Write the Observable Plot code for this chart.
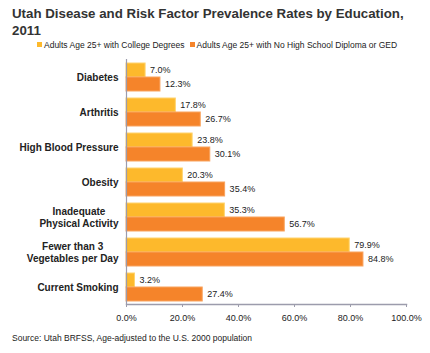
<!DOCTYPE html>
<html>
<head>
<meta charset="utf-8">
<script src="https://cdn.jsdelivr.net/npm/d3@7"></script>
<script src="https://cdn.jsdelivr.net/npm/@observablehq/plot@0.6"></script>
<style>
  html, body { margin: 0; padding: 0; background: #fff; }
  body { width: 430px; height: 353px; position: relative; overflow: hidden; font-family: "Liberation Sans", Arial, sans-serif; }
  #title { position: absolute; left: 12px; top: 6px; font-weight: bold; font-size: 13.3px; line-height: 16.5px; color: #333; }
  #legend { position: absolute; left: 37px; top: 40px; font-size: 8.5px; line-height: 10px; color: #222; white-space: nowrap; }
  #legend span.sw { display: inline-block; width: 5px; height: 5px; margin-right: 2px; vertical-align: 1px; }
  #legend span.item { margin-right: 5px; }
  #chart { position: absolute; left: 0; top: 52px; }
  #caption { position: absolute; left: 12px; top: 333px; font-size: 8.5px; line-height: 10px; color: #222; }
</style>
</head>
<body>
<div id="title">Utah Disease and Risk Factor Prevalence Rates by Education,<br>2011</div>
<div id="legend"></div>
<div id="chart"></div>
<div id="caption">Source: Utah BRFSS, Age-adjusted to the U.S. 2000 population</div>
<script>
const categories = [
  "Diabetes",
  "Arthritis",
  "High Blood Pressure",
  "Obesity",
  "Inadequate\nPhysical Activity",
  "Fewer than 3\nVegetables per Day",
  "Current Smoking"
];
const seriesNames = ["Adults Age 25+ with College Degrees", "Adults Age 25+ with No High School Diploma or GED"];
const collegeValues = [7.0, 17.8, 23.8, 20.3, 35.3, 79.9, 3.2];
const noHSValues = [12.3, 26.7, 30.1, 35.4, 56.7, 84.8, 27.4];
const xTicks = [0, 20, 40, 60, 80, 100];
const colors = ["#FDB92C", "#F5842A"];
const strokes = ["#FFD46E", "#F9A35E"];

const college = categories.map((c, i) => ({category: c, value: collegeValues[i]}));
const noHS = categories.map((c, i) => ({category: c, value: noHSValues[i]}));

// legend
const legend = document.getElementById("legend");
seriesNames.forEach((n, i) => {
  const it = document.createElement("span");
  it.className = "item";
  it.innerHTML = `<span class="sw" style="background:${colors[i]}"></span>${n}`;
  legend.appendChild(it);
});

const fmt = d => d.toFixed(1) + "%";
const half = 14;

const chart = Plot.plot({
  width: 430,
  height: 275,
  marginLeft: 126,
  marginRight: 24,
  marginTop: 7,
  marginBottom: 23,
  style: {fontFamily: "'Liberation Sans', Arial, sans-serif", background: "#fff", color: "#222"},
  x: {domain: [0, 100]},
  y: {domain: categories, paddingInner: 0.2, paddingOuter: 0.1},
  marks: [
    Plot.barX(college, {x: "value", y: "category", fill: colors[0], stroke: strokes[0], strokeWidth: 1, insetBottom: half, insetRight: 0.5}),
    Plot.barX(noHS, {x: "value", y: "category", fill: colors[1], stroke: strokes[1], strokeWidth: 1, insetTop: half, insetRight: 0.5}),
    Plot.text(college, {x: "value", y: "category", text: d => fmt(d.value), dy: -half / 2, dx: 4, textAnchor: "start", fontSize: 9, fill: "#222"}),
    Plot.text(noHS, {x: "value", y: "category", text: d => fmt(d.value), dy: half / 2, dx: 4, textAnchor: "start", fontSize: 9, fill: "#222"}),
    Plot.ruleX([0], {stroke: "#9C9CAC", strokeWidth: 1.2}),
    Plot.frame({anchor: "bottom", stroke: "#9C9CAC", strokeWidth: 1.5}),
    Plot.axisX({ticks: xTicks, tickFormat: fmt, tickSize: 3, tickPadding: 7, fontSize: 9, stroke: "#9C9CAC", label: null}),
    Plot.axisY({tickSize: 0, tickPadding: 8, fontSize: 10, fontWeight: "bold", lineHeight: 1.15, label: null, fill: "#222"})
  ]
});
document.getElementById("chart").appendChild(chart);

// center multi-line category labels (as in the original chart)
chart.querySelectorAll('g[aria-label="y-axis tick label"] text').forEach(t => {
  const spans = t.querySelectorAll("tspan");
  if (spans.length > 1) {
    let w = 0;
    spans.forEach(s => { w = Math.max(w, s.getComputedTextLength()); });
    t.setAttribute("text-anchor", "middle");
    spans.forEach(s => s.setAttribute("x", -w / 2));
  }
});
</script>
</body>
</html>
